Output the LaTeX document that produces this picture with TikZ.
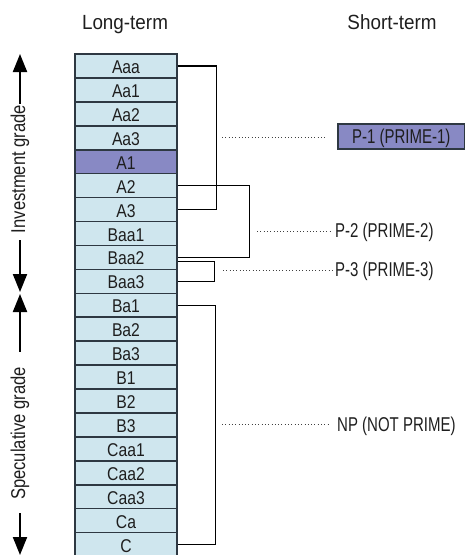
\documentclass[tikz,border=0pt]{standalone}
\usepackage{fontspec}
\setmainfont{Liberation Sans}[FakeStretch=0.88]
\newfontfamily\rowfont{Liberation Sans}[FakeStretch=0.85]
\newfontfamily\labfont{Liberation Sans}[FakeStretch=0.75]
\newfontfamily\headfont{Liberation Sans}[FakeStretch=0.92]
\newfontfamily\sidefont{Liberation Sans}[FakeStretch=0.83]
\usetikzlibrary{arrows.meta}
\definecolor{cellblue}{RGB}{207,230,238}
\definecolor{cellpurple}{RGB}{136,137,196}
\definecolor{cellline}{RGB}{46,56,66}
\definecolor{txt}{RGB}{30,30,30}
\begin{document}
\begin{tikzpicture}[x=1pt,y=-1pt,
  cell/.style={draw=cellline, line width=1.6pt, minimum width=102pt, minimum height=23.93pt,
    inner sep=0pt, text height=15.1pt, text depth=0pt, text=txt, font=\rowfont\fontsize{18.5}{19}\selectfont},
  bracket/.style={draw=black, line width=1.1pt},
  dotline/.style={draw=black!75, line width=0.9pt, dash pattern=on 0.9pt off 2.4pt},
  shortlab/.style={anchor=west, inner sep=0pt, text height=13.8pt, text depth=0pt, text=txt,
    font=\labfont\fontsize{20}{21}\selectfont},
  pbox/.style={draw=cellline, line width=1.2pt, fill=cellpurple, minimum width=126.4pt,
    minimum height=25pt, inner sep=0pt, text height=13.8pt, text depth=0pt, text=txt,
    font=\labfont\fontsize{20}{21}\selectfont},
  head/.style={anchor=base, inner sep=0pt, text=txt, font=\headfont\fontsize{20.5}{22}\selectfont},
  sidelab/.style={rotate=90, inner sep=0pt, text=txt, font=\sidefont\fontsize{20}{21}\selectfont},
  sidearrow/.style={draw=black, line width=2pt, -{Triangle[width=14pt,length=18pt]}}]
\useasboundingbox (0,0) rectangle (465,555);

% headers
\node[head] (lt) at (125,29) {Long-term};
\node[head] (st) at (392,29) {Short-term};

% rating column
\foreach \lab/\col [count=\i from 0] in {Aaa/cellblue,Aa1/cellblue,Aa2/cellblue,Aa3/cellblue,
  A1/cellpurple,A2/cellblue,A3/cellblue,Baa1/cellblue,Baa2/cellblue,Baa3/cellblue,
  Ba1/cellblue,Ba2/cellblue,Ba3/cellblue,B1/cellblue,B2/cellblue,B3/cellblue,
  Caa1/cellblue,Caa2/cellblue,Caa3/cellblue,Ca/cellblue,C/cellblue} {
  \node[cell, fill=\col] (\lab) at (126,{54+23.93*(\i+0.5)}) {\lab};
}

% brackets
\draw[bracket] (Aaa.east) -| ([xshift=39pt]A3.east) -- (A3.east);
\draw[bracket] (A2.east) -| ([xshift=72pt]Baa2.east) -- (Baa2.east);
\draw[bracket] ([yshift=-4pt]Baa2.east) -| ([xshift=37pt]Baa3.east) -- (Baa3.east);
\draw[bracket] (Ba1.east) -| ([xshift=38pt]C.east) -- (C.east);

% short-term labels
\node[pbox] (P1) at (401.2,136.5) {P-1 (PRIME-1)};
\coordinate (d1) at (222,137);
\draw[dotline, shorten >=10pt] (d1) -- (d1 -| P1.west);

\node[shortlab] (P2) at (335,231) {P-2 (PRIME-2)};
\coordinate (d2) at (257,231);
\draw[dotline, shorten >=3pt] (d2) -- (d2 -| P2.west);

\node[shortlab] (P3) at (335,270) {P-3 (PRIME-3)};
\coordinate (d3) at (223,270);
\draw[dotline, shorten >=3pt] (d3) -- (d3 -| P3.west);

\node[shortlab] (NP) at (337,425) {NP (NOT PRIME)};
\coordinate (d4) at (222,424);
\draw[dotline, shorten >=9pt] (d4) -- (d4 -| NP.west);

% side labels and arrows
\node[sidelab] (inv) at (20,169) {Investment grade};
\coordinate (invtop) at (20,54);
\coordinate (invbot) at (20,292);
\draw[sidearrow] ([yshift=1pt]inv.east) -- (invtop);
\draw[sidearrow] ([yshift=-7pt]inv.west) -- (invbot);

\node[sidelab] (spec) at (20,433.5) {Speculative grade};
\coordinate (spectop) at (20,294);
\coordinate (specbot) at (20,555);
\draw[sidearrow] ([yshift=15pt]spec.east) -- (spectop);
\draw[sidearrow] ([yshift=-13pt]spec.west) -- (specbot);
\end{tikzpicture}
\end{document}
